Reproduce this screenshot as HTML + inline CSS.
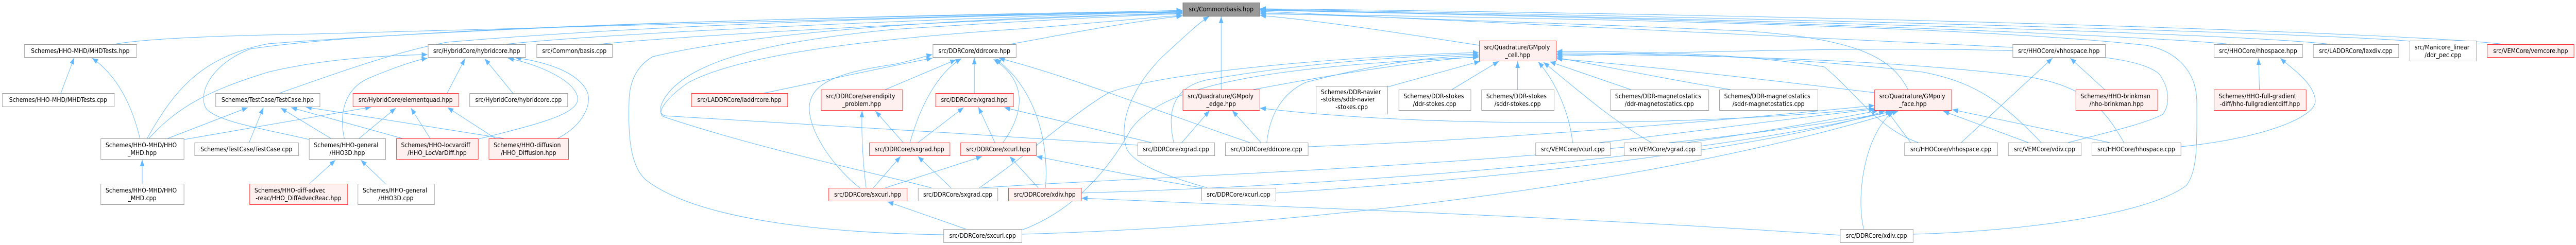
<!DOCTYPE html>
<html><head><meta charset="utf-8"><style>
html,body{margin:0;padding:0;background:#fff;width:100%;height:100%;overflow:hidden}
svg{display:block;width:100vw;height:100vh;overflow:hidden}
text{font-family:"DejaVu Sans","Liberation Sans",sans-serif;font-size:12.7px;fill:#000}
.n{fill:#fff;stroke:#999;stroke-width:1}
.r{fill:#fff0f0;stroke:#ff3030;stroke-width:1}
.g{fill:#999;stroke:#666;stroke-width:1}
.e path{fill:none;stroke:#63b8ff;stroke-width:1}
</style></head><body>
<svg viewBox="0 0 5761 476" preserveAspectRatio="none" xmlns="http://www.w3.org/2000/svg">
<defs><marker id="a" markerWidth="14" markerHeight="11" refX="13" refY="5" orient="auto" markerUnits="userSpaceOnUse"><path d="M0,0 L13,5 L0,10 z" fill="#63b8ff" stroke="none"/></marker></defs>
<g class="e" marker-end="url(#a)">
<path d="M136,181 L166,112"/>
<path d="M313,269 C298,215 268,150 206,113"/>
<path d="M318,357 L318,310"/>
<path d="M329,269 C390,175 450,110 600,85 C1200,45 2100,28 2644,21"/>
<path d="M333,269 C400,205 470,175 600,140 C720,115 850,108 956,106"/>
<path d="M375,269 L554,209"/>
<path d="M412,271 L830,208"/>
<path d="M691,271 C600,252 490,238 462,212 C440,185 470,125 560,95 C900,50 2000,30 2644,23"/>
<path d="M255,86 C320,76 450,70 700,66 C1500,45 2200,27 2644,20"/>
<path d="M557,277 L589,209"/>
<path d="M740,269 L628,210"/>
<path d="M803,269 L885,210"/>
<path d="M770,269 C758,220 770,170 830,150 C880,132 925,118 956,113"/>
<path d="M692,357 L750,311"/>
<path d="M862,357 L807,311"/>
<path d="M625,181 C790,130 900,98 1000,82 C1500,45 2200,29 2644,24"/>
<path d="M900,269 L651,209"/>
<path d="M1127,269 L684,208"/>
<path d="M962,269 L919,210"/>
<path d="M1108,269 L1001,209"/>
<path d="M1070,270 C1200,242 1275,225 1290,200 C1305,170 1230,130 1136,113"/>
<path d="M1247,269 C1310,240 1322,200 1314,180 C1295,140 1220,120 1152,112"/>
<path d="M1147,181 L1084,114"/>
<path d="M1000,181 L1040,114"/>
<path d="M1130,86 C1300,70 1800,45 2644,22"/>
<path d="M1340,86 C1500,72 2000,45 2644,25"/>
<path d="M2110,456 C1800,452 1550,420 1445,350 C1405,320 1405,250 1407,190 C1410,150 1430,125 1460,110 C1700,60 2200,32 2644,27"/>
<path d="M2544,282 C2200,262 1800,240 1487,225 C1470,220 1475,200 1500,175 C1560,120 1700,82 2000,57 C2300,40 2500,32 2644,26"/>
<path d="M2083,365 C2000,345 1700,290 1485,227 C1465,220 1490,190 1540,160 C1650,110 1900,78 2300,55 C2450,45 2550,35 2644,30"/>
<path d="M1923,365 C1870,330 1810,260 1810,210 C1810,160 1880,140 2000,125 C2040,118 2065,110 2085,106"/>
<path d="M1708,181 C1800,165 1950,135 2085,113"/>
<path d="M1980,174 L2138,116"/>
<path d="M2179,181 L2179,112"/>
<path d="M2035,277 C2060,200 2100,140 2150,114"/>
<path d="M2053,277 L2155,209"/>
<path d="M2020,277 L1958,216"/>
<path d="M2225,277 L2188,208"/>
<path d="M2243,277 C2290,220 2300,160 2222,115"/>
<path d="M1937,365 C1930,320 1926,260 1928,215"/>
<path d="M1953,365 L2014,304"/>
<path d="M1980,365 L2196,304"/>
<path d="M2127,365 L2053,304"/>
<path d="M2322,365 L2258,304"/>
<path d="M2338,365 C2345,300 2330,180 2226,114"/>
<path d="M2160,445 L1985,392"/>
<path d="M2795,277 C2600,220 2400,150 2234,113"/>
<path d="M2575,277 L2246,209"/>
<path d="M2690,365 C2550,345 2400,318 2318,304"/>
<path d="M4115,457 C3500,420 2800,400 2419,385"/>
<path d="M2700,365 C2600,340 2540,320 2520,290 C2500,240 2530,170 2600,110 C2650,70 2680,45 2704,32"/>
<path d="M2731,174 L2731,32"/>
<path d="M2643,277 L2705,215"/>
<path d="M2820,277 L2756,215"/>
<path d="M2625,277 C2610,220 2620,170 2700,155 C2900,125 3100,110 3307,105"/>
<path d="M2833,277 C2840,220 2870,180 2920,160 C3100,120 3200,110 3307,108"/>
<path d="M2190,365 C2300,300 2400,220 2480,180 C2600,140 3000,110 3307,102"/>
<path d="M4192,210 C3800,245 3200,250 2818,210"/>
<path d="M3103,169 L3310,119"/>
<path d="M3247,174 L3352,119"/>
<path d="M3394,174 L3394,119"/>
<path d="M3517,277 C3510,220 3480,160 3440,120"/>
<path d="M3693,277 C3600,230 3550,190 3452,121"/>
<path d="M3647,174 L3466,120"/>
<path d="M3870,174 C3700,150 3600,130 3481,112"/>
<path d="M4192,180 C3900,150 3700,130 3481,114"/>
<path d="M4290,277 C4200,250 4150,180 4080,130 C3900,105 3700,100 3481,100"/>
<path d="M4565,277 C4480,200 4420,160 4300,140 C4000,110 3700,103 3481,103"/>
<path d="M4750,277 C4700,200 4650,160 4500,145 C4200,115 3800,106 3481,106"/>
<path d="M4273,277 L4220,215"/>
<path d="M4536,277 L4346,216"/>
<path d="M4718,277 L4366,213"/>
<path d="M4168,445 C4150,380 4170,260 4235,216"/>
<path d="M3577,277 C3800,255 4000,230 4193,212"/>
<path d="M3773,277 C3900,262 4050,240 4200,215"/>
<path d="M2853,375 C3300,350 3900,300 4215,216"/>
<path d="M2925,285 C3400,270 3900,230 4192,205"/>
<path d="M4267,174 C4230,110 4150,75 3900,60 C3500,45 3000,30 2818,25"/>
<path d="M4386,277 L4590,113"/>
<path d="M4707,174 L4630,113"/>
<path d="M4501,92 C4200,80 3500,50 2818,22"/>
<path d="M5053,174 L5051,113"/>
<path d="M4877,285 C5050,270 5180,230 5178,195 C5175,160 5120,130 5100,113"/>
<path d="M4988,86 C4800,70 4000,40 2818,20"/>
<path d="M5212,86 C5000,65 4000,40 2818,19"/>
<path d="M5390,80 C5200,65 4000,35 2818,18"/>
<path d="M5600,86 C5400,65 4200,30 2818,17"/>
<path d="M4278,455 C4500,450 4800,420 4890,360 C4915,330 4913,280 4913,200 C4913,140 4870,100 4800,88 C4400,50 3500,35 2818,27"/>
<path d="M4625,277 C4700,260 4800,240 4837,222 C4855,200 4850,170 4830,145 C4780,100 4500,80 3481,109"/>
<path d="M3308,88 C3100,60 2950,40 2818,30"/>
<path d="M2285,447 C2400,410 2480,330 2530,250 C2600,170 2800,130 3307,111"/>
<path d="M2285,455 C2900,440 3700,360 4245,216"/>
<path d="M2418,375 C3000,360 3800,310 4230,216"/>
<path d="M2195,365 C2600,340 3600,320 4238,216"/>
<path d="M2258,86 C2350,72 2500,45 2644,31"/>
<path d="M2803,174 C2950,150 3150,120 3307,110"/>
</g>

<rect class="g" x="2645.5" y="5.5" width="172" height="26"/>
<text x="2731" y="22" text-anchor="middle">src/Common/basis.hpp</text>

<rect class="n" x="54.5" y="86.5" width="251" height="25"/><text x="179.5" y="103" text-anchor="middle">Schemes/HHO-MHD/MHDTests.hpp</text>
<rect class="n" x="957.5" y="86.5" width="218" height="25"/><text x="1066" y="103" text-anchor="middle">src/HybridCore/hybridcore.hpp</text>
<rect class="n" x="1200.5" y="86.5" width="169" height="25"/><text x="1284.5" y="103" text-anchor="middle">src/Common/basis.cpp</text>
<rect class="n" x="2086.5" y="86.5" width="186" height="25"/><text x="2179" y="103" text-anchor="middle">src/DDRCore/ddrcore.hpp</text>
<rect class="r" x="3308.5" y="79.5" width="172" height="39"/><text x="3319" y="96">src/Quadrature/GMpoly</text><text x="3394" y="111" text-anchor="middle">_cell.hpp</text>
<rect class="n" x="4501.5" y="86.5" width="207" height="25"/><text x="4604.5" y="103" text-anchor="middle">src/HHOCore/vhhospace.hpp</text>
<rect class="n" x="4951.5" y="86.5" width="198" height="25"/><text x="5050" y="103" text-anchor="middle">src/HHOCore/hhospace.hpp</text>
<rect class="n" x="5173.5" y="86.5" width="191" height="25"/><text x="5268.5" y="103" text-anchor="middle">src/LADDRCore/laxdiv.cpp</text>
<rect class="n" x="5389.5" y="79.5" width="149" height="39"/><text x="5400" y="96">src/Manicore_linear</text><text x="5463.5" y="111" text-anchor="middle">/ddr_pec.cpp</text>
<rect class="r" x="5562.5" y="86.5" width="194" height="25"/><text x="5659.5" y="103" text-anchor="middle">src/VEMCore/vemcore.hpp</text>

<rect class="n" x="5.5" y="181.5" width="250" height="26"/><text x="130" y="198" text-anchor="middle">Schemes/HHO-MHD/MHDTests.cpp</text>
<rect class="n" x="482.5" y="181.5" width="233" height="26"/><text x="598.5" y="198" text-anchor="middle">Schemes/TestCase/TestCase.hpp</text>
<rect class="r" x="789.5" y="181.5" width="236" height="26"/><text x="907" y="198" text-anchor="middle">src/HybridCore/elementquad.hpp</text>
<rect class="n" x="1050.5" y="181.5" width="219" height="26"/><text x="1159.5" y="198" text-anchor="middle">src/HybridCore/hybridcore.cpp</text>
<rect class="r" x="1546.5" y="181.5" width="215" height="26"/><text x="1653.5" y="198" text-anchor="middle">src/LADDRCore/laddrcore.hpp</text>
<rect class="r" x="1836.5" y="174.5" width="182" height="40"/><text x="1847" y="191">src/DDRCore/serendipity</text><text x="1927" y="206" text-anchor="middle">_problem.hpp</text>
<rect class="r" x="2092.5" y="181.5" width="174" height="26"/><text x="2179" y="198" text-anchor="middle">src/DDRCore/xgrad.hpp</text>
<rect class="r" x="2645.5" y="174.5" width="172" height="40"/><text x="2656" y="191">src/Quadrature/GMpoly</text><text x="2731" y="206" text-anchor="middle">_edge.hpp</text>
<rect class="n" x="2943.5" y="167.5" width="160" height="54"/><text x="2954" y="183">Schemes/DDR-navier</text><text x="2954" y="197">-stokes/sddr-navier</text><text x="3023" y="212" text-anchor="middle">-stokes.cpp</text>
<rect class="n" x="3128.5" y="174.5" width="161" height="40"/><text x="3139" y="191">Schemes/DDR-stokes</text><text x="3208.5" y="206" text-anchor="middle">/ddr-stokes.cpp</text>
<rect class="n" x="3313.5" y="174.5" width="162" height="40"/><text x="3324" y="191">Schemes/DDR-stokes</text><text x="3394" y="206" text-anchor="middle">/sddr-stokes.cpp</text>
<rect class="n" x="3601.5" y="174.5" width="220" height="40"/><text x="3612" y="191">Schemes/DDR-magnetostatics</text><text x="3711" y="206" text-anchor="middle">/ddr-magnetostatics.cpp</text>
<rect class="n" x="3845.5" y="174.5" width="220" height="40"/><text x="3856" y="191">Schemes/DDR-magnetostatics</text><text x="3955" y="206" text-anchor="middle">/sddr-magnetostatics.cpp</text>
<rect class="r" x="4192.5" y="174.5" width="172" height="40"/><text x="4203" y="191">src/Quadrature/GMpoly</text><text x="4278" y="206" text-anchor="middle">_face.hpp</text>
<rect class="r" x="4642.5" y="174.5" width="183" height="40"/><text x="4653" y="191">Schemes/HHO-brinkman</text><text x="4733.5" y="206" text-anchor="middle">/hho-brinkman.hpp</text>
<rect class="r" x="4951.5" y="174.5" width="206" height="40"/><text x="4962" y="191">Schemes/HHO-full-gradient</text><text x="5054" y="206" text-anchor="middle">-diff/hho-fullgradientdiff.hpp</text>

<rect class="n" x="225.5" y="269.5" width="186" height="40"/><text x="236" y="286">Schemes/HHO-MHD/HHO</text><text x="318" y="301" text-anchor="middle">_MHD.hpp</text>
<rect class="n" x="435.5" y="277.5" width="232" height="25"/><text x="551" y="294" text-anchor="middle">Schemes/TestCase/TestCase.cpp</text>
<rect class="n" x="691.5" y="269.5" width="171" height="40"/><text x="702" y="286">Schemes/HHO-general</text><text x="776.5" y="301" text-anchor="middle">/HHO3D.hpp</text>
<rect class="r" x="886.5" y="269.5" width="183" height="40"/><text x="897" y="286">Schemes/HHO-locvardiff</text><text x="977.5" y="301" text-anchor="middle">/HHO_LocVarDiff.hpp</text>
<rect class="r" x="1093.5" y="269.5" width="178" height="40"/><text x="1104" y="286">Schemes/HHO-diffusion</text><text x="1182" y="301" text-anchor="middle">/HHO_Diffusion.hpp</text>
<rect class="r" x="1944.5" y="277.5" width="180" height="25"/><text x="2034" y="294" text-anchor="middle">src/DDRCore/sxgrad.hpp</text>
<rect class="r" x="2148.5" y="277.5" width="169" height="25"/><text x="2232.5" y="294" text-anchor="middle">src/DDRCore/xcurl.hpp</text>
<rect class="n" x="2544.5" y="277.5" width="172" height="25"/><text x="2630" y="294" text-anchor="middle">src/DDRCore/xgrad.cpp</text>
<rect class="n" x="2740.5" y="277.5" width="185" height="25"/><text x="2832.5" y="294" text-anchor="middle">src/DDRCore/ddrcore.cpp</text>
<rect class="n" x="3434.5" y="277.5" width="167" height="25"/><text x="3517.5" y="294" text-anchor="middle">src/VEMCore/vcurl.cpp</text>
<rect class="n" x="3632.5" y="277.5" width="172" height="25"/><text x="3718" y="294" text-anchor="middle">src/VEMCore/vgrad.cpp</text>
<rect class="n" x="4259.5" y="277.5" width="208" height="25"/><text x="4363" y="294" text-anchor="middle">src/HHOCore/vhhospace.cpp</text>
<rect class="n" x="4491.5" y="277.5" width="163" height="25"/><text x="4572.5" y="294" text-anchor="middle">src/VEMCore/vdiv.cpp</text>
<rect class="n" x="4678.5" y="277.5" width="199" height="25"/><text x="4777.5" y="294" text-anchor="middle">src/HHOCore/hhospace.cpp</text>

<rect class="n" x="225.5" y="357.5" width="186" height="40"/><text x="236" y="374">Schemes/HHO-MHD/HHO</text><text x="318" y="389" text-anchor="middle">_MHD.cpp</text>
<rect class="r" x="558.5" y="357.5" width="219" height="40"/><text x="569" y="374">Schemes/HHO-diff-advec</text><text x="667.5" y="389" text-anchor="middle">-reac/HHO_DiffAdvecReac.hpp</text>
<rect class="n" x="800.5" y="357.5" width="171" height="40"/><text x="811" y="374">Schemes/HHO-general</text><text x="885.5" y="389" text-anchor="middle">/HHO3D.cpp</text>
<rect class="r" x="1853.5" y="365.5" width="175" height="25"/><text x="1940.5" y="382" text-anchor="middle">src/DDRCore/sxcurl.hpp</text>
<rect class="n" x="2053.5" y="365.5" width="178" height="25"/><text x="2142" y="382" text-anchor="middle">src/DDRCore/sxgrad.cpp</text>
<rect class="r" x="2255.5" y="365.5" width="163" height="25"/><text x="2336.5" y="382" text-anchor="middle">src/DDRCore/xdiv.hpp</text>
<rect class="n" x="2687.5" y="365.5" width="166" height="25"/><text x="2770" y="382" text-anchor="middle">src/DDRCore/xcurl.cpp</text>

<rect class="n" x="2110.5" y="445.5" width="175" height="26"/><text x="2197.5" y="462" text-anchor="middle">src/DDRCore/sxcurl.cpp</text>
<rect class="n" x="4115.5" y="445.5" width="163" height="26"/><text x="4196.5" y="462" text-anchor="middle">src/DDRCore/xdiv.cpp</text>
</svg>
</body></html>
